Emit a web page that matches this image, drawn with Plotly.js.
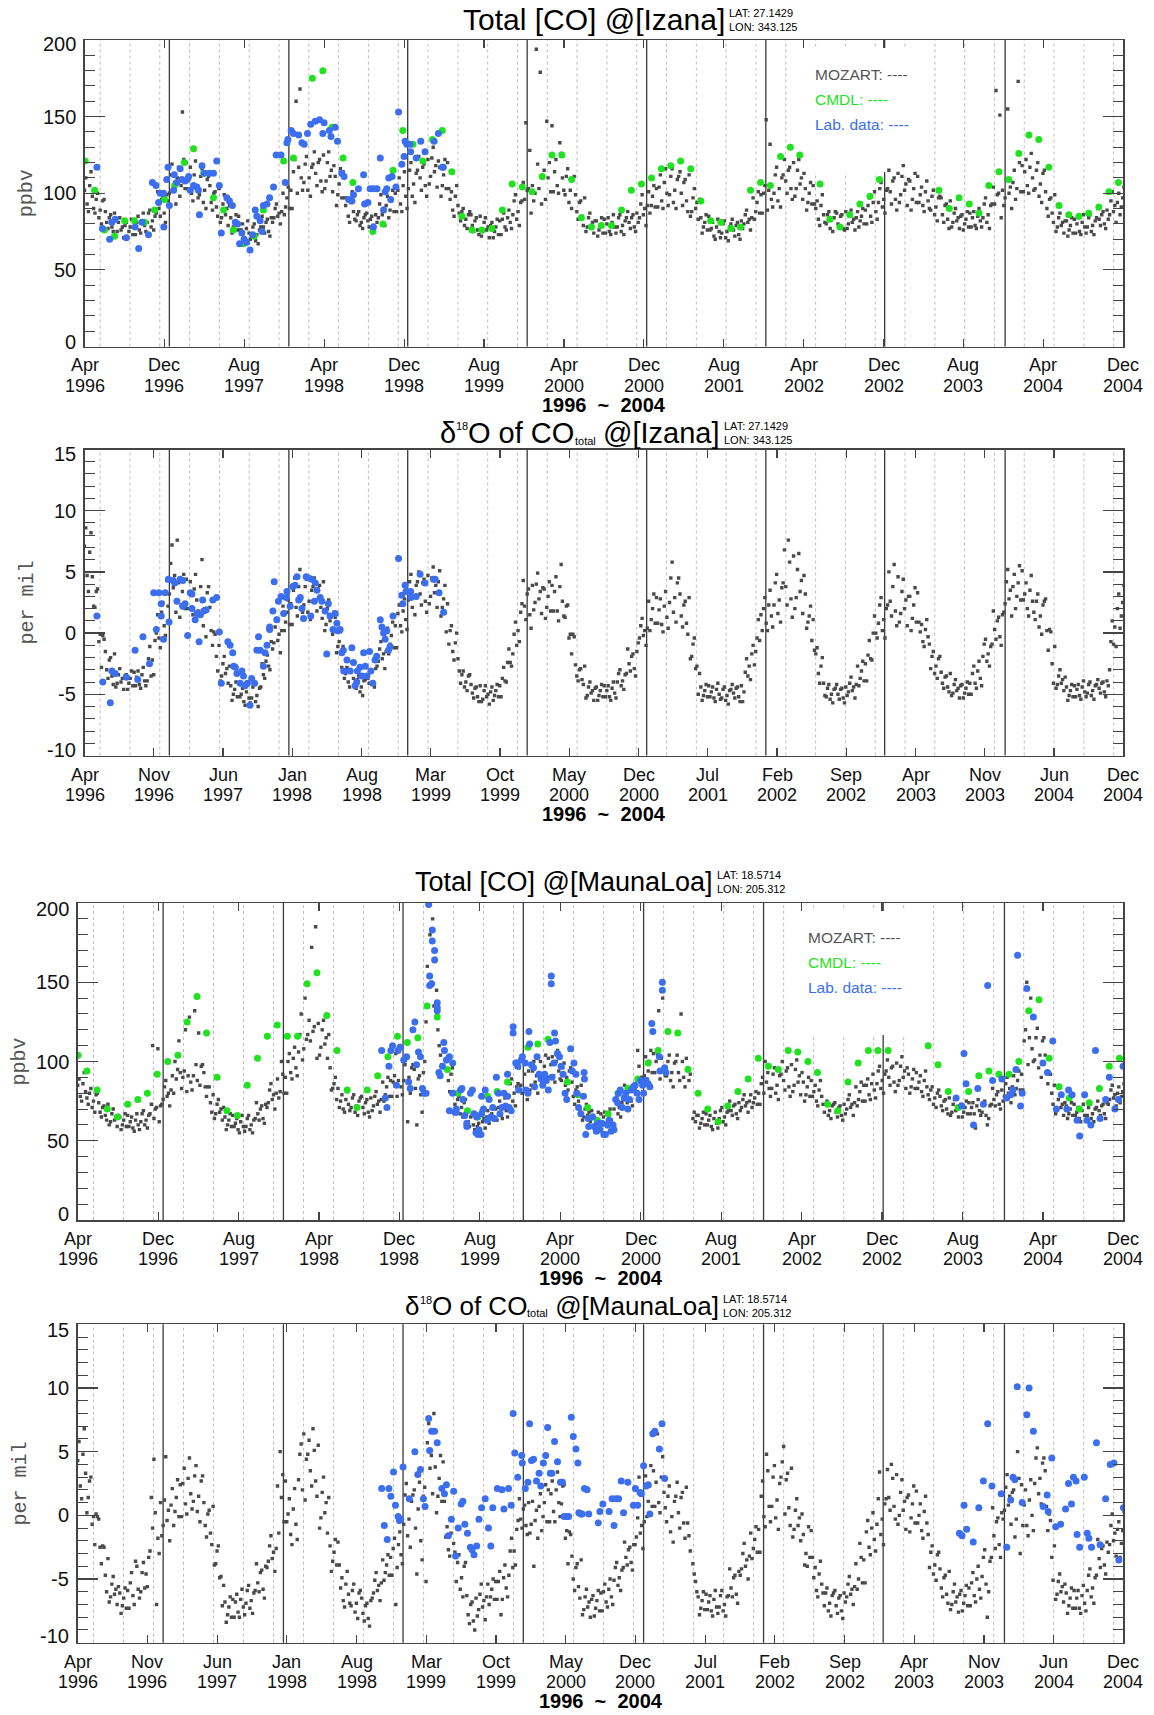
<!DOCTYPE html>
<html>
<head>
<meta charset="utf-8">
<script src="https://cdn.plot.ly/plotly-3.0.1.min.js"></script>
<style>html,body{margin:0;padding:0;background:#fff}</style>
</head>
<body>
<div id="chart" style="width:1154px;height:1715px"></div>
<script>
// ---- Time base: MOZART output sampled every 4 days, day 0 = start of Apr 1996 ----
const DAY_STEP = 4;
const DAY_MAX = 3182;

// Year separators (days since start) and x tick labels
const yearLineDays = [260, 626, 990, 1356, 1722, 2087, 2451, 2820];
const tickMonths8 = ['Apr','Dec','Aug','Apr','Dec','Aug','Apr','Dec','Aug','Apr','Dec','Aug','Apr','Dec'];
const tickYears8  = ['1996','1996','1997','1998','1998','1999','2000','2000','2001','2002','2002','2003','2004','2004'];
const tickMonths7 = ['Apr','Nov','Jun','Jan','Aug','Mar','Oct','May','Dec','Jul','Feb','Sep','Apr','Nov','Jun','Dec'];
const tickYears7  = ['1996','1996','1997','1998','1998','1999','1999','2000','2000','2001','2002','2002','2003','2003','2004','2004'];
const coTicks = [0, 50, 100, 150, 200];
const coTickText = ['0','50','100','150','200'];
const d18Ticks = [-10, -5, 0, 5, 10, 15];
const d18TickText = ['-10','-5','0','5','10','15'];

// ---- Izana: MOZART total CO (ppbv) ----
const izCO = [
102,110,93,88,105,114,98,90,
87,96,100,84,89,80,95,96,
88,81,77,84,86,78,75,87,
72,75,81,84,76,78,71,79,
81,71,75,78,83,73,82,73,
81,85,76,74,82,87,79,75,
81,87,89,78,82,76,85,87,
101,90,85,96,97,87,81,99,
95,100,112,119,103,107,93,110,
117,98,105,153,122,103,120,103,
109,117,100,95,112,121,105,97,
99,111,116,94,102,90,109,111,
105,94,89,100,101,91,85,103,
81,84,93,99,86,90,79,92,
84,74,78,81,86,76,85,76,
76,80,71,69,77,82,74,70,
72,78,80,69,73,67,76,78,
85,78,74,81,83,75,72,84,
81,84,90,93,85,87,80,88,
100,86,91,97,104,90,102,90,
114,122,160,100,117,168,110,102,
107,119,124,102,110,98,117,119,
127,113,105,120,122,108,101,125,
103,108,120,127,111,115,101,118,
111,92,99,106,116,97,114,97,
92,97,85,81,94,101,88,83,
82,86,88,79,81,77,84,86,
87,82,78,83,85,79,76,86,
81,84,93,99,86,90,79,92,
98,84,89,95,102,88,100,88,
102,110,93,88,105,114,98,90,
103,115,120,98,106,94,113,115,
124,110,102,117,119,105,98,122,
106,111,123,130,114,118,104,121,
117,98,105,112,122,103,120,103,
96,101,89,85,98,105,92,87,
82,88,90,79,83,77,86,88,
86,79,75,82,84,76,73,85,
72,75,81,84,76,78,71,79,
81,71,75,78,83,73,82,73,
83,87,78,76,84,89,81,77,
86,95,99,83,88,79,94,95,
107,96,146,102,103,128,87,105,
95,100,194,119,103,179,93,110,
115,96,147,110,120,101,144,101,
114,122,105,100,133,126,110,102,
99,111,116,94,102,90,109,111,
99,88,83,94,95,85,79,97,
75,78,84,87,79,81,74,82,
82,72,76,79,84,74,83,74,
80,84,75,73,81,86,78,74,
78,84,86,75,79,73,82,84,
88,81,77,84,86,78,75,87,
81,84,93,99,86,90,79,92,
101,87,92,98,105,91,103,91,
104,112,95,90,107,116,100,92,
99,111,116,94,102,90,109,111,
114,100,92,107,109,95,88,112,
85,88,97,103,90,94,83,96,
84,74,78,81,86,76,85,76,
77,81,72,70,78,83,75,71,
74,80,82,71,75,69,78,80,
83,76,72,79,81,73,70,82,
77,80,86,89,81,83,76,84,
97,83,88,94,101,87,99,87,
100,105,148,89,102,132,96,91,
100,112,117,95,103,91,110,112,
122,108,100,115,117,103,96,120,
98,103,115,122,106,110,96,113,
103,89,94,100,107,93,105,93,
90,95,83,79,92,99,86,81,
80,86,88,77,83,75,84,88,
87,80,78,85,86,77,76,88,
77,80,86,89,81,83,76,84,
88,78,82,85,90,80,89,80,
92,97,85,81,94,101,88,83,
94,103,107,91,96,87,102,103,
115,101,93,108,110,96,89,113,
94,99,111,118,102,106,92,109,
108,89,96,103,113,94,111,94,
99,104,92,88,101,108,95,90,
89,98,102,86,91,82,97,98,
97,86,81,92,93,83,77,95,
78,81,87,90,82,84,77,85,
86,76,80,83,88,78,87,78,
84,88,79,77,85,90,82,78,
84,93,97,81,86,77,92,93,
104,93,167,99,100,151,84,102,
92,97,109,155,100,104,90,107,
115,96,103,173,120,101,118,101,
114,122,105,100,117,126,110,102,
103,115,120,98,106,94,113,115,
101,90,85,96,97,87,81,99,
75,78,84,87,79,81,74,82,
82,72,76,79,84,74,83,74,
80,84,75,73,81,86,78,74,
78,84,86,75,79,73,82,84,
90,83,79,86,88,80,77,89,
83,86,95,101,88,92,81,94,
100,86,91,97,104,90,102,90
];

// Izana: CMDL flask CO
const izCmdlDay = [2,31,61,92,123,153,184,215,245,276,306,334,365,395,426,456,487,520,548,610,640,698,730,758,792,822,883,914,945,975,1006,1036,1066,1096,1125,1156,1187,1217,1248,1280,1310,1341,1371,1402,1432,1462,1492,1522,1553,1583,1614,1645,1675,1706,1737,1767,1796,1826,1857,1888,1918,1949,1980,2009,2040,2071,2101,2132,2162,2191,2253,2283,2314,2344,2375,2406,2435,2617,2649,2679,2710,2740,2770,2801,2831,2862,2893,2923,2954,2985,3015,3046,3076,3107,3138,3167];
const izCmdlCO  = [121,102,76,72,82,82,81,89,96,105,120,129,113,97,89,76,67,72,89,121,123,175,180,143,123,107,75,80,115,141,132,121,135,141,114,85,76,76,77,89,106,104,101,111,125,125,109,84,78,79,79,89,102,106,110,116,118,121,116,95,82,81,77,78,102,107,105,124,130,125,106,83,78,86,93,98,109,102,90,97,93,87,105,114,109,126,138,135,117,92,86,85,87,91,101,107];

// Izana: laboratory CO
const izLabDay = [38,55,77,84,94,128,155,166,176,196,208,219,227,232,242,243,252,256,260,273,275,283,293,298,308,314,319,324,334,344,349,352,360,367,382,395,405,413,419,436,444,453,462,469,475,482,489,497,507,515,523,528,538,544,548,559,567,579,587,602,615,620,623,633,640,656,666,673,683,693,707,720,730,734,750,755,768,775,788,795,809,819,824,839,855,858,868,875,885,885,896,906,916,921,926,932,938,942,954,962,972,979,982,987,997,999,1016,1030,1043,1071,1084,1096,1099];
const izLabCO  = [117,77,70,81,83,71,78,64,81,73,107,105,94,100,100,78,109,117,92,102,112,107,116,109,108,109,111,102,105,104,102,86,118,113,113,113,121,105,74,97,95,92,81,80,67,74,70,68,63,73,89,85,82,75,92,93,97,104,125,125,107,133,135,141,139,138,133,132,139,145,147,148,139,146,141,137,143,134,113,111,96,95,99,103,112,93,94,103,103,78,103,123,89,101,103,110,96,111,104,153,119,124,134,132,132,127,123,134,127,134,139,117,117];

// ---- Izana: MOZART delta18O of total CO (per mil) ----
const izD18O = [
7.1,8.6,4.7,3.4,6.6,8.2,4.6,2.2,
2.1,3.4,3.6,-0.7,-0.1,-2.8,-0.2,-0.5,
-1.5,-3.0,-3.7,-2.2,-2.0,-3.5,-4.2,-1.7,
-4.4,-4.1,-3.4,-2.9,-4.0,-3.7,-4.6,-3.5,
-3.4,-4.6,-4.1,-3.7,-3.1,-4.3,-3.2,-4.3,
-3.6,-3.1,-4.2,-4.5,-3.4,-2.8,-3.9,-4.3,
-3.9,-2.1,-1.1,-3.5,-2.2,-3.4,-0.6,0.0,
1.5,-0.4,-1.2,1.7,2.5,0.6,-0.2,4.3,
2.2,3.2,5.7,7.2,3.7,4.7,1.7,7.6,
4.1,1.3,2.3,3.4,4.8,2.0,4.4,2.0,
3.3,4.2,2.1,1.5,3.6,4.8,2.7,1.8,
1.5,3.8,6.0,0.6,2.0,-0.3,3.3,3.8,
2.1,0.2,-1.0,0.1,-0.1,-1.9,-3.1,-1.0,
-3.9,-3.5,-2.5,-1.9,-3.3,-2.9,-4.1,-2.7,
-4.3,-5.5,-5.0,-4.6,-4.0,-5.2,-4.1,-5.2,
-5.0,-4.5,-5.6,-5.9,-4.8,-4.2,-5.3,-5.7,
-5.3,-4.4,-4.0,-5.6,-5.1,-6.0,-4.5,-4.4,
-2.5,-3.4,-3.7,-2.3,-1.8,-2.7,-3.0,-0.7,
-1.3,-0.8,0.5,1.2,-0.6,-0.1,-1.6,0.2,
2.2,0.2,0.9,1.7,2.7,0.7,2.4,0.7,
3.5,4.5,2.1,1.4,3.8,5.2,2.8,1.7,
2.3,3.8,4.4,1.7,2.6,1.1,3.5,3.8,
4.5,2.7,1.8,3.6,3.9,2.1,1.2,4.2,
0.2,0.7,2.0,2.7,1.0,1.5,-0.1,1.7,
1.3,-1.6,-1.1,-0.7,0.1,-2.8,-1.1,-3.7,
-3.3,-2.8,-4.0,-4.4,-3.1,-2.4,-3.7,-4.2,
-4.5,-3.8,-3.5,-4.8,-4.4,-5.1,-3.9,-3.8,
-2.8,-3.7,-4.1,-3.2,-3.1,-4.0,-4.4,-2.9,
-2.7,-2.3,-1.3,-0.7,-2.1,-1.7,-2.9,-1.5,
0.4,-1.7,-0.9,-0.2,0.9,-1.2,0.6,-1.2,
1.6,2.3,0.6,0.1,1.8,2.8,1.1,0.3,
2.7,4.2,4.8,2.1,3.0,1.5,3.9,4.2,
5.0,3.2,2.3,4.1,4.4,2.6,1.7,4.7,
2.4,3.0,4.5,5.4,3.3,3.9,2.1,4.2,
5.1,1.4,2.1,2.8,3.9,0.1,2.4,-0.9,
0.2,0.6,-1.5,-2.2,-0.8,0.0,-2.1,-3.1,
-4.1,-3.4,-3.1,-4.4,-4.0,-4.7,-3.5,-3.4,
-4.2,-4.9,-5.3,-4.5,-4.4,-5.2,-5.6,-4.3,
-5.6,-5.4,-4.7,-4.3,-5.2,-5.0,-5.8,-4.8,
-4.4,-5.5,-5.1,-4.7,-4.2,-5.2,-4.3,-5.2,
-3.7,-2.8,-3.9,-4.0,-2.4,-1.3,-2.4,-2.7,
-1.7,-0.1,0.9,-1.0,0.2,-0.7,1.7,2.4,
4.3,2.2,1.1,3.2,3.6,1.5,0.4,3.9,
1.9,2.5,4.0,4.9,2.8,3.4,1.6,3.7,
3.6,1.2,2.1,3.0,4.2,1.8,3.9,1.8,
3.4,4.6,1.8,1.0,3.8,5.6,2.6,1.4,
1.3,2.2,2.3,-0.4,-0.1,-1.7,-0.1,-0.3,
-2.6,-3.5,-3.9,-3.0,-2.9,-3.8,-4.2,-2.7,
-5.3,-5.1,-4.4,-4.0,-4.9,-4.7,-5.5,-4.5,
-4.4,-5.5,-5.1,-4.7,-4.2,-5.2,-4.3,-5.2,
-4.7,-4.3,-5.2,-5.5,-4.5,-4.0,-4.9,-5.3,
-4.0,-3.3,-3.0,-4.3,-3.9,-4.6,-3.4,-3.3,
-1.3,-2.5,-3.1,-1.9,-1.7,-2.9,-3.5,-1.5,
-0.8,-0.4,0.6,1.2,-0.2,0.2,-1.0,0.4,
2.6,0.2,1.1,2.0,3.2,0.8,2.9,0.8,
1.9,2.8,0.7,0.1,2.2,3.4,1.3,0.4,
2.5,4.5,5.8,1.7,2.9,0.9,4.1,4.5,
3.2,1.4,0.5,2.3,2.6,0.8,-0.1,2.9,
-2.1,-1.9,-0.9,-0.4,-2.9,-2.7,-5.0,-3.3,
-4.4,-5.5,-5.1,-4.7,-4.2,-5.2,-4.3,-5.2,
-4.8,-4.4,-5.3,-5.6,-4.6,-4.1,-5.0,-5.4,
-5.3,-4.6,-4.4,-5.5,-5.1,-5.8,-4.7,-4.6,
-4.2,-4.9,-5.3,-4.5,-4.4,-5.2,-5.6,-4.3,
-5.6,-4.8,-3.2,-2.1,-3.5,-2.7,-3.8,-1.7,
-1.0,-2.6,-1.5,-0.4,1.1,-0.6,1.5,0.2,
2.0,2.9,0.8,0.2,2.3,3.5,1.4,0.5,
2.3,4.1,4.8,1.6,2.7,0.9,3.7,4.1,
6.8,3.8,2.3,7.6,5.8,2.8,1.3,6.3,
2.0,2.9,5.2,6.5,3.4,4.3,1.6,4.7,
3.2,0.4,0.9,1.4,2.2,-0.6,1.1,-1.4,
-1.7,-1.2,-3.3,-4.1,-2.7,-2.0,-4.1,-5.1,
-5.2,-4.5,-4.2,-5.4,-5.0,-5.7,-4.6,-4.5,
-4.2,-5.0,-5.4,-4.6,-4.5,-5.3,-5.7,-4.4,
-5.1,-4.8,-4.1,-3.6,-4.7,-4.4,-5.3,-4.2,
-2.7,-4.3,-3.7,-3.1,-2.3,-3.9,-2.5,-3.9,
-1.8,-0.6,-2.1,-2.2,0.0,1.4,0.0,-0.4,
0.8,2.3,2.9,0.2,1.1,-0.4,2.0,2.3,
5.0,2.6,1.4,3.8,5.6,1.8,0.6,4.6,
0.9,1.6,3.4,4.4,2.0,2.7,0.6,3.0,
3.0,0.2,1.2,2.3,3.7,0.9,3.3,0.9,
0.1,0.7,-0.7,-1.1,0.3,1.1,-0.3,-0.9,
-2.9,-1.9,-1.5,-3.3,-2.7,-3.7,-2.1,-1.9,
-3.2,-4.1,-4.5,-3.6,-3.5,-4.4,-4.8,-3.3,
-5.1,-4.9,-4.2,-3.8,-4.7,-4.5,-5.3,-4.3,
-4.2,-5.3,-4.9,-4.5,-4.0,-5.0,-4.1,-5.0,
-3.3,-2.7,-4.1,-4.5,-3.1,-2.3,-3.7,-4.3,
-1.9,-0.9,-0.5,-2.3,-1.7,-2.7,-1.1,-0.9,
1.8,0.3,-0.5,1.0,1.3,-0.3,-1.0,1.5,
1.7,2.4,4.2,5.2,2.8,3.5,1.4,3.8,
4.8,2.0,3.0,4.1,5.5,2.7,5.1,2.7,
3.2,4.1,2.0,1.4,3.5,4.7,2.6,1.7,
1.1,2.6,3.2,0.5,1.4,-0.1,2.3,2.6,
2.8,0.2,-1.4,0.3,0.1,-2.5,-4.1,-1.1,
-4.5,-4.2,-3.5,-3.0,-4.1,-3.8,-4.7,-3.6,
-4.4,-5.5,-5.1,-4.7,-4.2,-5.2,-4.3,-5.2,
-4.6,-4.2,-5.1,-5.4,-4.4,-3.9,-4.8,-5.2,
-4.9,-4.2,-4.0,-5.1,-4.7,-5.4,-4.3,-4.2,
-3.8,-4.5,-4.9,-4.1,-4.0,-4.8,-5.2,-3.9,
-4.3,-3.0,-0.7,1.0,-0.9,0.5,-1.1,2.0,
3.2,0.4,1.4,2.5,3.9,1.0,3.5,1.0
];

// Izana: laboratory delta18O
const izLabD18Day = [38,56,79,84,94,128,155,163,179,199,212,220,228,235,235,242,247,257,259,271,276,283,293,301,301,308,316,324,329,329,339,344,351,355,362,365,373,393,405,413,419,439,446,454,457,462,467,477,482,487,492,499,507,512,521,528,533,538,548,553,559,567,567,577,581,589,594,602,610,618,620,630,638,645,651,656,661,666,671,679,686,693,696,704,707,712,722,727,737,742,747,752,761,768,773,775,783,788,793,794,804,814,819,824,829,834,836,844,850,855,860,865,873,877,883,890,895,906,911,916,921,926,931,936,945,962,972,975,982,985,999,1000,1016,1028,1043,1069,1074,1086,1100];
const izLabD18  = [1.4,-4.0,-5.7,-3.1,-3.3,-3.6,-1.4,-3.8,-0.3,-2.5,3.3,0.3,3.3,2.4,1.4,-0.5,3.3,4.4,0.9,4.3,4.1,2.6,4.4,4.3,2.2,2.4,-0.2,3.3,3.2,2.0,1.1,1.6,-0.7,1.5,2.7,1.8,1.9,2.7,2.9,0.1,-4.1,-0.7,-1.0,-1.6,-2.7,-2.8,-3.3,-4.1,-3.1,-3.5,-4.3,-4.1,-5.9,-3.7,-4.1,-1.4,-0.3,-1.4,-2.7,-1.6,-1.0,0.3,0.5,1.8,4.2,1.1,2.6,3.0,1.6,2.9,3.4,2.2,3.8,3.9,4.6,2.7,2.9,2.0,1.2,4.6,4.5,1.4,4.4,2.6,4.1,3.5,2.9,2.6,1.8,-1.7,2.4,1.4,0.3,1.6,0.8,0.2,0.3,-1.6,-1.4,-3.1,-2.2,-3.1,-1.2,-2.4,-4.3,-4.0,-3.1,-2.8,-3.5,-1.6,-2.7,-3.5,-1.5,-3.1,-4.1,-2.2,-1.9,1.1,0.5,0.0,-0.5,0.2,-1.4,-1.1,1.4,6.1,3.1,2.4,3.9,3.4,3.4,2.9,3.0,4.8,4.1,4.4,4.4,3.3,1.7];

// ---- Mauna Loa: MOZART total CO (ppbv) ----
const mlCO = [
85,89,78,75,86,93,81,77,
73,80,83,71,75,68,79,80,
74,68,65,71,72,66,63,73,
60,62,67,70,63,65,59,66,
65,57,60,63,67,59,66,59,
62,65,58,56,63,67,60,57,
62,67,69,60,63,58,66,67,
73,110,64,70,71,108,62,72,
73,76,84,88,78,80,72,82,
91,80,100,89,95,113,93,83,
90,94,120,81,91,128,87,82,
91,132,98,88,118,85,97,98,
93,84,78,84,84,74,68,79,
64,67,73,76,68,70,63,71,
65,57,60,63,67,59,66,59,
61,64,57,55,62,66,59,56,
59,64,66,57,60,55,63,64,
74,67,63,70,72,64,61,73,
71,74,82,86,76,79,70,80,
89,77,81,100,92,80,90,80,
100,105,93,89,102,109,96,91,
106,117,130,101,108,140,114,117,
126,113,172,119,122,185,102,124,
104,109,120,126,111,115,102,117,
96,82,83,86,90,76,83,71,
75,79,70,68,76,81,73,69,
71,77,79,68,72,66,75,77,
78,71,67,74,76,68,65,77,
69,72,78,81,73,75,68,76,
87,75,79,84,90,78,88,78,
87,91,105,78,88,110,84,79,
88,98,102,62,90,80,96,98,
95,83,60,89,91,79,68,93,
100,125,160,200,180,150,190,135,
165,145,120,110,104,98,112,96,
100,102,88,81,92,96,81,73,
70,76,78,67,71,65,74,76,
68,62,59,65,66,60,57,67,
59,61,66,69,62,64,58,65,
69,61,64,67,71,63,70,63,
71,75,66,64,72,77,69,65,
78,86,89,75,80,72,84,86,
96,85,80,100,92,82,76,94,
82,85,94,100,87,91,80,93,
100,86,91,97,104,90,102,90,
98,103,91,87,100,107,94,89,
88,96,99,85,90,82,94,96,
87,78,73,82,84,75,70,85,
63,65,70,73,66,68,62,69,
66,58,61,64,68,60,67,60,
65,68,61,59,66,70,63,60,
70,76,78,67,71,65,74,76,
85,78,74,81,83,75,72,84,
82,85,107,97,87,90,81,91,
103,89,94,100,107,93,105,93,
100,105,132,89,102,140,96,91,
91,100,104,88,93,84,99,100,
104,93,88,130,100,90,84,102,
96,88,92,null,64,68,62,66,
66,58,61,64,68,60,67,60,
63,66,59,57,64,68,61,58,
64,69,71,62,65,60,68,69,
75,69,66,72,73,67,64,74,
69,71,76,79,72,74,68,75,
79,71,74,77,81,73,80,73,
86,90,80,100,87,93,83,78,
83,92,96,80,85,76,91,92,
100,88,82,94,96,84,78,98,
81,85,95,101,87,91,79,93,
87,75,79,84,90,78,88,78,
81,85,75,72,82,88,78,73,
68,73,75,66,69,64,72,73,
74,68,65,71,72,66,63,73,
67,70,76,79,71,73,66,74,
84,72,76,81,87,75,85,75,
85,89,79,76,86,92,82,77,
86,94,97,83,88,80,92,94,
101,90,85,96,97,87,81,99,
85,88,97,103,90,94,83,96,
92,80,84,89,95,83,93,83,
87,91,81,78,88,94,84,79,
76,82,84,73,77,71,80,82,
78,72,69,75,76,70,67,77,
66,68,73,76,69,71,65,72,
73,65,68,71,75,67,74,67,
71,74,67,58,72,76,69,66,
68,73,75,66,60,64,72,73,
83,76,72,79,81,73,70,82,
75,78,86,90,80,83,74,84,
91,79,83,88,94,82,92,82,
113,120,150,98,115,140,108,100,
101,115,121,96,104,90,113,115,
104,93,86,93,92,80,73,85,
67,70,76,79,71,73,66,74,
72,64,67,70,74,66,73,66,
68,71,64,62,69,73,66,63,
66,71,73,64,67,62,70,71,
75,69,66,72,73,67,64,74,
73,76,82,85,77,79,72,80,
84,74,78,81,86,76,85,76
];

// Mauna Loa: CMDL flask CO
const mlCmdlDay = [1,28,59,90,121,152,183,212,242,274,305,333,363,392,424,454,486,516,547,577,607,638,669,698,728,758,789,820,850,881,913,944,973,1003,1035,1063,1094,1125,1157,1186,1218,1247,1276,1308,1338,1370,1400,1431,1460,1490,1522,1552,1581,1614,1644,1674,1704,1736,1766,1796,1826,1857,1888,1917,1949,1978,2009,2040,2071,2102,2132,2162,2191,2222,2251,2282,2313,2344,2375,2406,2435,2466,2588,2618,2649,2679,2711,2742,2773,2803,2834,2864,2894,2925,2956,2986,3017,3048,3078,3109,3139,3170];
const mlCmdlCO  = [104,94,82,70,65,73,76,80,92,100,104,125,141,118,90,69,66,85,102,116,123,116,116,149,156,129,107,82,71,82,91,103,116,112,115,135,128,95,80,69,65,78,81,87,99,109,111,114,105,87,79,71,63,67,80,83,89,99,107,119,118,95,80,70,62,72,81,89,102,97,95,107,106,100,93,73,69,87,99,107,107,107,110,98,81,71,81,91,94,92,92,100,132,139,102,84,77,70,74,83,97,102];

// Mauna Loa: laboratory CO
const mlLabDay = [925,936,941,947,953,958,970,975,981,992,1001,1007,1012,1020,1026,1031,1037,1043,1049,1054,1060,1068,1079,1079,1086,1086,1071,1071,1077,1094,1094,1094,1099,1103,1110,1114,1116,1122,1131,1131,1141,1141,1148,1152,1152,1165,1169,1172,1178,1184,1184,1195,1201,1206,1212,1218,1221,1227,1214,1229,1229,1235,1240,1246,1252,1257,1263,1268,1274,1280,1285,1291,1297,1302,1308,1308,1313,1319,1325,1325,1333,1339,1342,1350,1353,1362,1364,1370,1373,1375,1381,1387,1390,1398,1404,1410,1415,1421,1426,1432,1437,1441,1441,1443,1449,1451,1454,1460,1466,1471,1477,1483,1488,1500,1505,1510,1516,1519,1524,1531,1539,1541,1542,1546,1553,1555,1567,1572,1578,1584,1589,1595,1601,1606,1612,1617,1623,1629,1632,1637,1643,1646,1651,1657,1663,1668,1674,1679,1685,1691,1696,1702,1708,1713,1719,1722,1730,1736,1741,1747,1750,1770,1772,1779,1779,1786,1790,2673,2690,2697,2703,2726,2739,2756,2769,2784,2812,2827,2839,2846,2855,2860,2869,2874,2888,2908,2937,2951,2967,2978,2993,3010,3015,3026,3041,3049,3064,3071,3083,3097,3111,3128,3139,3156,3167,3181];
const mlLabCO  = [107,77,71,97,107,110,85,107,109,101,103,87,83,120,125,98,106,103,83,80,80,199,183,176,170,164,154,148,149,137,132,134,93,91,97,112,107,101,103,69,99,80,68,70,68,82,83,76,66,61,59,80,82,67,55,54,57,54,65,67,78,70,82,63,76,65,71,64,90,80,67,71,80,72,92,78,71,69,122,118,99,97,82,101,103,99,82,80,119,111,98,96,84,103,92,89,85,92,88,82,112,154,149,90,99,118,113,105,103,97,92,80,76,108,94,99,92,80,71,67,78,93,89,54,64,59,65,59,56,61,57,61,54,54,60,63,56,60,57,76,74,80,82,71,77,80,70,76,82,84,85,80,76,88,85,80,88,86,84,124,119,103,94,150,145,96,93,77,72,105,86,60,83,73,148,88,89,77,79,82,95,167,72,80,146,128,99,93,113,70,79,70,82,79,63,53,79,63,60,107,64,76,90,70,76,97];

// ---- Mauna Loa: MOZART delta18O of total CO (per mil) ----
const mlD18O = [
4.3,5.8,2.3,1.3,4.8,6.8,3.3,0.2,
1.4,2.7,3.0,-0.7,-0.1,-2.3,0.1,-0.1,
-0.3,-2.5,-3.8,-2.4,-2.5,-4.7,-6.0,-3.4,
-6.8,-6.4,-5.4,-4.8,-6.2,-5.8,-7.0,-5.6,
-6.1,-7.7,-7.1,-6.5,-5.7,-7.3,-5.9,-7.3,
-5.3,-4.5,-6.3,-7.0,-3.6,-4.0,-5.8,-6.5,
-6.0,-4.5,-3.7,-5.7,-4.6,-5.6,-3.3,-2.8,
1.4,-1.0,4.4,0.2,-7.0,-1.8,-3.0,1.0,
-1.6,-0.8,1.2,4.6,-0.4,0.4,-2.0,0.8,
2.1,-0.8,0.3,1.4,2.8,-0.1,2.4,-0.1,
2.5,3.7,0.9,0.1,2.9,4.5,1.7,0.5,
1.1,3.1,3.9,0.3,1.5,-0.5,2.7,3.1,
1.0,-0.8,-1.7,0.1,0.4,-1.4,-2.3,0.7,
-3.9,-3.8,-2.8,-2.4,-4.9,-4.8,-7.1,-5.5,
-6.8,-8.4,-7.8,-7.2,-6.4,-8.0,-6.6,-8.0,
-6.8,-6.2,-7.6,-8.0,-6.6,-5.8,-7.2,-7.8,
-6.9,-5.9,-5.5,-7.3,-6.7,-7.7,-6.1,-5.9,
-3.8,-5.3,-6.0,-4.5,-4.3,-5.8,-6.5,-4.0,
-4.1,-3.6,-2.4,-1.6,-3.4,-2.9,-4.4,-2.6,
2.3,-1.4,5.0,1.4,3.2,-0.5,2.7,-0.5,
0.1,1.3,-1.5,-2.3,0.5,2.1,-0.7,-1.9,
2.8,4.8,5.6,2.0,6.4,1.2,4.4,4.8,
5.9,3.5,2.3,6.8,5.1,2.7,1.5,5.5,
-1.0,-0.2,1.8,3.0,0.2,1.0,-1.4,1.4,
-2.4,-4.4,-3.6,-2.9,-1.9,-3.9,-2.1,-3.9,
-5.7,-4.9,-6.7,-7.2,-5.4,-4.4,-6.2,-6.9,
-7.1,-5.9,-5.4,-7.6,-6.9,-8.1,-6.1,-5.9,
-6.5,-7.7,-8.3,-7.1,-6.9,-8.1,-8.7,-6.7,
-6.5,-6.1,-5.1,-4.5,-5.9,-5.5,-6.7,-5.3,
-3.5,-5.1,-4.5,-3.9,-3.1,-4.7,-3.3,-4.7,
-2.6,-1.8,-7.0,-4.1,-2.3,-1.3,-3.1,-3.8,
-0.7,1.6,2.5,-1.6,-0.3,-2.5,1.1,1.6,
2.0,-1.0,-4.6,0.5,2.6,-2.0,-3.5,1.5,
2.2,-5.2,5.7,7.2,3.7,4.7,1.7,8.0,
3.8,0.2,1.5,2.9,4.7,1.1,4.2,1.1,
-1.7,-0.9,-2.7,-3.2,-1.4,-0.4,-2.2,-2.9,
-5.2,-3.7,-3.1,-5.8,-4.9,-6.4,-4.0,-3.7,
-6.3,-7.8,-8.5,-7.0,-6.8,-8.3,-9.0,-6.5,
-7.9,-7.4,-6.2,-5.4,-7.2,-6.7,-8.2,-6.4,
-5.4,-7.0,-6.4,-5.8,-5.0,-6.6,-5.2,-6.6,
-5.2,-4.4,-7.8,-6.6,-4.9,-3.9,-5.7,-6.4,
-4.7,-2.8,-1.8,-4.1,-2.8,-3.9,-1.1,-0.4,
1.3,-0.3,-1.0,0.5,0.8,-0.8,-1.5,1.0,
-1.4,-0.7,1.1,-4.0,-0.4,0.4,-1.8,0.7,
1.7,-1.2,-0.1,1.0,2.4,-0.5,2.0,-0.5,
1.7,2.7,0.3,-0.5,2.0,3.4,1.0,-0.1,
0.9,2.3,2.4,-1.8,-1.2,-3.8,-1.3,-1.5,
-3.2,-5.0,-5.9,-4.1,-3.8,-5.6,-6.5,-3.5,
-7.8,-7.4,-6.4,-5.8,-7.2,-6.8,-8.0,-6.6,
-6.3,-7.9,-7.3,-6.7,-5.9,-7.5,-6.1,-7.5,
-6.0,-5.4,-6.8,-7.2,-5.8,-5.0,-6.4,-7.0,
-5.1,-4.1,-3.7,-5.5,-4.9,-5.9,-4.3,-4.1,
-2.1,-3.3,-3.9,-2.7,-2.5,-3.7,-4.3,-2.3,
-2.3,-1.7,-0.2,3.0,-1.4,-0.8,-2.6,-0.5,
3.1,-0.1,1.1,2.3,3.9,0.7,3.5,0.7,
2.6,6.4,1.0,0.2,3.0,4.6,1.8,0.6,
-0.5,1.5,2.3,-1.3,-0.1,-2.1,1.1,1.5,
2.6,0.2,-1.0,1.4,1.8,-0.6,-1.8,2.2,
-0.6,-1.6,-2.8,null,-3.8,-4.6,-5.2,-6.0,
-6.4,-7.8,-7.3,-6.7,-6.0,-7.4,-6.2,-7.4,
-6.8,-6.3,-7.5,-7.9,-6.6,-5.9,-7.2,-7.7,
-7.2,-6.3,-5.9,-7.5,-7.0,-7.9,-6.4,-6.3,
-4.2,-5.7,-6.4,-4.9,-4.7,-6.2,-6.9,-4.4,
-4.7,-4.2,-3.0,-2.2,-4.0,-3.5,-5.0,-3.2,
-1.4,-3.4,-2.6,-1.9,-0.9,-2.9,-1.1,-2.9,
1.5,2.7,-0.1,-0.9,4.8,3.5,0.7,-0.5,
0.7,3.0,3.9,-0.2,1.2,-1.1,2.5,3.0,
4.2,5.4,0.1,2.8,3.3,0.6,-0.8,3.7,
-1.7,-1.1,0.4,1.3,-0.8,-0.2,-2.0,0.1,
-1.5,-3.9,-3.0,-4.0,-0.9,-3.3,-1.2,-3.3,
-4.9,-4.1,-5.9,-6.4,-4.6,-3.6,-5.4,-6.1,
-7.1,-6.1,-5.7,-7.5,-6.9,-7.9,-6.3,-6.1,
-5.9,-7.1,-7.7,-6.5,-6.3,-7.5,-8.1,-6.1,
-6.8,-6.4,-5.4,-4.8,-6.2,-5.8,-7.0,-5.6,
-3.8,-5.8,-5.0,-2.2,-3.3,-5.3,-3.5,-5.3,
-1.3,-0.4,-2.5,-3.1,-1.0,0.2,-1.9,-2.8,
-0.7,1.3,3.4,-1.5,-0.3,-2.3,0.9,1.3,
3.6,1.4,0.4,4.0,2.9,0.7,-0.3,3.2,
-0.7,0.0,1.8,2.8,0.4,1.1,-1.1,1.4,
1.6,-1.3,-0.2,0.9,2.3,-0.6,1.9,-0.6,
0.0,0.9,-1.2,-1.8,0.3,1.5,-0.6,-1.5,
-4.1,-2.9,-2.4,-4.6,-3.9,-5.1,-3.1,-2.9,
-4.2,-5.7,-6.4,-4.9,-4.7,-6.2,-6.9,-4.4,
-7.4,-7.0,-6.0,-5.4,-6.8,-6.4,-7.6,-6.2,
-5.9,-7.5,-6.9,-6.3,-5.5,-7.1,-5.7,-7.1,
-5.3,-4.5,-6.3,-6.8,-5.0,-4.0,-5.8,-6.5,
-4.8,-3.3,-2.7,-5.4,-8.0,-6.0,-3.6,-3.3,
0.6,-1.6,-2.6,-0.5,-0.2,-2.3,-3.3,0.2,
-0.3,0.4,2.2,3.2,0.8,1.5,-0.7,1.8,
2.0,-1.7,-0.3,5.0,2.9,-3.0,2.4,-0.8,
0.8,2.0,-0.8,-1.6,1.2,2.8,0.0,-1.2,
2.5,4.5,5.3,1.7,2.9,0.9,4.1,4.5,
3.5,0.7,-1.2,0.1,-0.4,-3.3,-5.1,-2.4,
-6.6,-6.2,-5.2,-4.6,-6.0,-5.6,-6.8,-5.4,
-6.1,-7.7,-7.1,-6.5,-5.7,-7.3,-5.9,-7.3,
-6.5,-5.9,-7.3,-7.7,-6.3,-5.5,-6.9,-7.5,
-5.9,-4.7,-4.2,-6.4,-5.7,-6.9,-4.9,-4.7,
-1.9,-3.4,-4.1,-2.6,-2.4,-3.9,-4.6,-2.1,
-2.9,-2.3,-0.8,0.1,-2.0,-1.4,-3.2,-1.1,
-0.5,-3.3,-2.2,-1.2,0.3,-2.6,-0.1,-2.6
];

// Mauna Loa: laboratory delta18O
const mlLabD18Day = [925,933,942,947,953,961,967,975,979,983,990,1009,1026,1035,1043,1052,1057,1068,1071,1077,1086,1094,1108,1116,1122,1144,1137,1128,1158,1150,1167,1172,1178,1186,1195,1200,1206,1214,1221,1229,1240,1250,1257,1263,1277,1291,1297,1311,1319,1325,1330,1339,1351,1353,1362,1370,1375,1381,1387,1396,1404,1409,1417,1424,1430,1438,1443,1451,1460,1469,1475,1480,1488,1494,1502,1508,1516,1522,1525,1531,1535,1542,1550,1555,1584,1589,1598,1617,1626,1632,1638,1646,1654,1661,1674,1691,1697,1704,1711,1715,1722,1730,1736,1741,1750,1756,1770,1778,1786,2683,2691,2697,2705,2725,2742,2756,2769,2782,2810,2827,2839,2846,2852,2859,2874,2888,2895,2908,2938,2950,2953,2964,2976,2991,3006,3015,3024,3030,3038,3041,3049,3063,3072,3077,3085,3100,3111,3128,3142,3153,3168,3182];
const mlLabD18  = [2.1,-0.8,-1.9,2.1,1.5,3.4,0.8,-0.1,-0.4,-0.3,3.8,1.3,5.0,3.2,3.6,1.3,0.7,7.6,5.1,6.6,6.6,5.7,2.1,1.7,2.4,1.9,-0.3,-1.6,-1.0,-3.2,0.9,1.1,-0.7,-1.4,-2.5,-2.7,-3.1,-2.4,-0.3,0.6,1.3,-1.0,-2.4,0.6,2.1,2.0,0.5,2.1,0.8,8.0,4.9,3.0,4.7,4.1,2.1,2.6,7.2,4.3,4.4,2.7,3.3,2.3,4.1,4.7,6.9,3.3,3.3,5.8,4.2,2.6,2.6,-0.1,-0.1,-0.1,7.7,6.2,5.2,4.1,0.2,0.1,0.1,2.1,2.0,0.1,-0.6,0.3,0.9,0.3,1.3,-0.8,1.3,1.3,2.7,0.2,2.6,0.8,2.1,0.8,1.8,1.7,3.9,2.3,2.4,0.1,6.4,6.6,5.2,7.2,2.9,-1.4,-1.6,0.8,-1.1,-2.1,0.6,2.7,7.2,2.3,1.7,-2.5,1.2,3.0,2.8,10.1,1.0,7.9,10.0,6.6,0.7,1.6,0.3,4.5,-0.9,-0.7,0.5,2.5,0.9,3.0,2.7,-1.5,-2.5,3.0,-1.4,-1.8,-2.5,5.7,-2.3,1.3,4.0,4.1,-3.5,0.6];

// ---------------- drawing ----------------
const FIG_W = 1154, FIG_H = 1715;
const FONT = 'Liberation Sans, Arial, Helvetica, sans-serif';
const MONO = 'Liberation Mono, Courier New, monospace';
const GREY = '#4a4a4a', GREEN = '#1ee31e', BLUE = '#3b6ff0', AXIS = '#444';

const py = px => 1 - px / FIG_H;

// text width helper used to lay out titles made of several font sizes
const measureCtx = document.createElement('canvas').getContext('2d');
function textWidth(t, size) {
  measureCtx.font = size + 'px "Liberation Sans", Arial, sans-serif';
  return measureCtx.measureText(t).width;
}

// pixel geometry of the four frames
const panels = [
  {s:'',  xl:84.5, xr:1123.3, top:40,     bottom:346.5,  co:true,  station:'Izana',    lat:'27.1429', lon:'343.125',
   titleY:20,    titleSize:30, mainRight:725, edge:[4, 4],   ylabX:26, months:tickMonths8, years:tickYears8,
   grey:izCO, sets:[[izCmdlDay, izCmdlCO, GREEN], [izLabDay, izLabCO, BLUE]]},
  {s:'2', xl:84.5, xr:1123.3, top:449.5,  bottom:755.5,  co:false, station:'Izana',    lat:'27.1429', lon:'343.125',
   titleY:432.5, titleSize:29, mainRight:720, edge:[4, 5.5], ylabX:27, months:tickMonths7, years:tickYears7,
   grey:izD18O, sets:[[izLabD18Day, izLabD18, BLUE]]},
  {s:'3', xl:77.7, xr:1123.4, top:903,    bottom:1220,   co:true,  station:'MaunaLoa', lat:'18.5714', lon:'205.312',
   titleY:881.7, titleSize:27, mainRight:713, edge:[6, 6.5], ylabX:19, months:tickMonths8, years:tickYears8,
   grey:mlCO, sets:[[mlCmdlDay, mlCmdlCO, GREEN], [mlLabDay, mlLabCO, BLUE]]},
  {s:'4', xl:77.7, xr:1123.4, top:1324.3, bottom:1642.7, co:false, station:'MaunaLoa', lat:'18.5714', lon:'205.312',
   titleY:1305.5, titleSize:26, mainRight:719, edge:[6, 6.5], ylabX:20, months:tickMonths7, years:tickYears7,
   grey:mlD18O, sets:[[mlLabD18Day, mlLabD18, BLUE]]}
];

const traces = [];
const shapes = [];
const annotations = [];
const layout = {
  width: FIG_W, height: FIG_H,
  margin: {l:0, r:0, t:0, b:0},
  paper_bgcolor: '#fff', plot_bgcolor: '#fff',
  showlegend: false,
  font: {family: FONT, size: 20, color: '#111'},
  shapes: shapes, annotations: annotations
};

function ann(o) {
  annotations.push(Object.assign({showarrow:false, xref:'paper', yref:'paper', xanchor:'center', yanchor:'middle'}, o));
}

panels.forEach(p => {
  const xa = 'x' + p.s, ya = 'y' + p.s;
  const nT = p.months.length;
  const tickDays = p.months.map((_, k) => DAY_MAX * k / (nT - 1));
  const yr = p.co ? [0, 200] : [-10, 15];
  const yTicks = p.co ? coTicks : d18Ticks;
  const yText = p.co ? coTickText : d18TickText;

  layout['xaxis' + p.s] = {
    domain: [p.xl / FIG_W, p.xr / FIG_W], range: [0, DAY_MAX], anchor: ya,
    tickmode: 'array', tickvals: tickDays, showticklabels: false,
    ticks: 'inside', ticklen: 8, tickwidth: 1.2, tickcolor: AXIS,
    showline: true, linecolor: AXIS, linewidth: 1.5, mirror: 'ticks',
    showgrid: false, zeroline: false, fixedrange: true
  };
  layout['yaxis' + p.s] = {
    domain: [py(p.bottom), py(p.top)], range: yr, anchor: xa,
    tickmode: 'array', tickvals: yTicks, showticklabels: false,
    ticks: 'inside', ticklen: 20, tickwidth: 1.2, tickcolor: AXIS,
    minor: {tickmode: 'linear', tick0: 0, dtick: p.co ? 10 : 1, ticks: 'inside', ticklen: 10, tickwidth: 1, tickcolor: AXIS},
    showline: true, linecolor: AXIS, linewidth: 1.5, mirror: 'ticks',
    showgrid: false, zeroline: false, fixedrange: true
  };

  // y tick labels; the end labels sit slightly inside the frame
  yTicks.forEach((v, k) => {
    let ypx = p.bottom - (v - yr[0]) / (yr[1] - yr[0]) * (p.bottom - p.top);
    if (k === yTicks.length - 1) ypx += p.edge[0];
    if (k === 0) ypx -= p.edge[1];
    ann({text: yText[k], x: (p.xl - 6.5) / FIG_W, y: py(ypx), xanchor: 'right', font: {family: FONT, size: 20, color: '#111'}});
  });

  // quarterly dotted guides and yearly solid separators
  for (let d = 48; d < DAY_MAX; d += 91.31) {
    shapes.push({type:'line', xref:xa, yref:ya + ' domain', x0:d, x1:d, y0:0, y1:1,
      line:{color:'#bdbdbd', width:1, dash:'dot'}, layer:'below'});
  }
  yearLineDays.forEach(d => {
    shapes.push({type:'line', xref:xa, yref:ya + ' domain', x0:d, x1:d, y0:0, y1:1,
      line:{color:'#3a3a3a', width:1.3}, layer:'below'});
  });

  // model output
  traces.push({type:'scatter', mode:'markers', xaxis:xa, yaxis:ya,
    x: p.grey.map((_, i) => i * DAY_STEP), y: p.grey,
    marker:{symbol:'square', size:3.4, color:GREY, line:{width:0}}, hoverinfo:'skip'});
  // observations
  p.sets.forEach(([days, vals, col]) => {
    traces.push({type:'scatter', mode:'markers', xaxis:xa, yaxis:ya, x: days, y: vals,
      marker:{symbol:'circle', size:7, color:col, line:{width:0}}, hoverinfo:'skip'});
  });

  // legend block on the CO panels
  if (p.co) {
    const toDay = px => (px - p.xl) / (p.xr - p.xl) * DAY_MAX;
    const toFrac = px => (p.bottom - px) / (p.bottom - p.top);
    shapes.push({type:'rect', xref:xa, yref:ya + ' domain', x0:toDay(800), x1:toDay(915),
      y0:toFrac(p.top + 132), y1:toFrac(p.top + 8), fillcolor:'#fff', line:{width:0}, layer:'below'});
    const lx = (p.xl + 728) / FIG_W;
    [['MOZART: ----', '#555', 34.5], ['CMDL: ----', GREEN, 59.5], ['Lab. data: ----', BLUE, 84.5]].forEach(([t, c, dy]) => {
      ann({text:t, x:lx, y:py(p.top + dy), xanchor:'left', font:{family:FONT, size:15.5, color:c}});
    });
  }

  // x tick labels: month over year, stacked tightly
  tickDays.forEach((d, k) => {
    ann({text:p.months[k], xref:xa, x:d, y:py(p.bottom + 19), font:{family:FONT, size:18, color:'#111'}});
    ann({text:p.years[k],  xref:xa, x:d, y:py(p.bottom + 39.3), font:{family:FONT, size:18, color:'#111'}});
  });
  ann({text:'1996\u00a0\u00a0~\u00a0\u00a02004', x:(p.xl + p.xr) / 2 / FIG_W, y:py(p.bottom + 58),
       font:{family:FONT, size:20, color:'#000', weight:'bold'}});

  // y axis title
  ann({text: p.co ? 'ppbv' : 'per mil', x:p.ylabX / FIG_W, y:py((p.top + p.bottom) / 2), textangle:-90,
       font:{family:MONO, size:20, color:'#555'}});

  // panel title: pieces laid out left to right, small pieces raised or lowered
  const S = p.titleSize, SMALL = 11;
  const pieces = p.co
    ? [['Total [CO] @[' + p.station + ']', S, 0]]
    : [['\u03b4', S, 0], ['18', SMALL, -0.23 * S], ['O of CO', S, 0], ['total', SMALL, 0.29 * S],
       ['\u00a0@[' + p.station + ']', S, 0]];
  const widths = pieces.map(([t, sz]) => textWidth(t, sz));
  let cx = p.mainRight - widths.reduce((a, b) => a + b, 0);
  pieces.forEach(([t, sz, dy], i) => {
    ann({text:t, x:cx / FIG_W, y:py(p.titleY + dy), xanchor:'left', borderpad:0, borderwidth:0,
         font:{family:FONT, size:sz, color:'#000'}});
    cx += widths[i];
  });
  ann({text:'LAT: ' + p.lat, x:(p.mainRight + 2) / FIG_W, y:py(p.titleY - 7), xanchor:'left', font:{family:FONT, size:11, color:'#000'}});
  ann({text:'LON: ' + p.lon, x:(p.mainRight + 2) / FIG_W, y:py(p.titleY + 7.5), xanchor:'left', font:{family:FONT, size:11, color:'#000'}});
});

Plotly.newPlot('chart', traces, layout, {staticPlot: true, displayModeBar: false}).then(gd => {
  // drop the empty axis-title placeholders Plotly leaves in the SVG
  gd.querySelectorAll('text').forEach(t => {
    if (!t.textContent.replace(/[\s\u200b]/g, '')) t.remove();
  });
});
</script>
</body>
</html>
